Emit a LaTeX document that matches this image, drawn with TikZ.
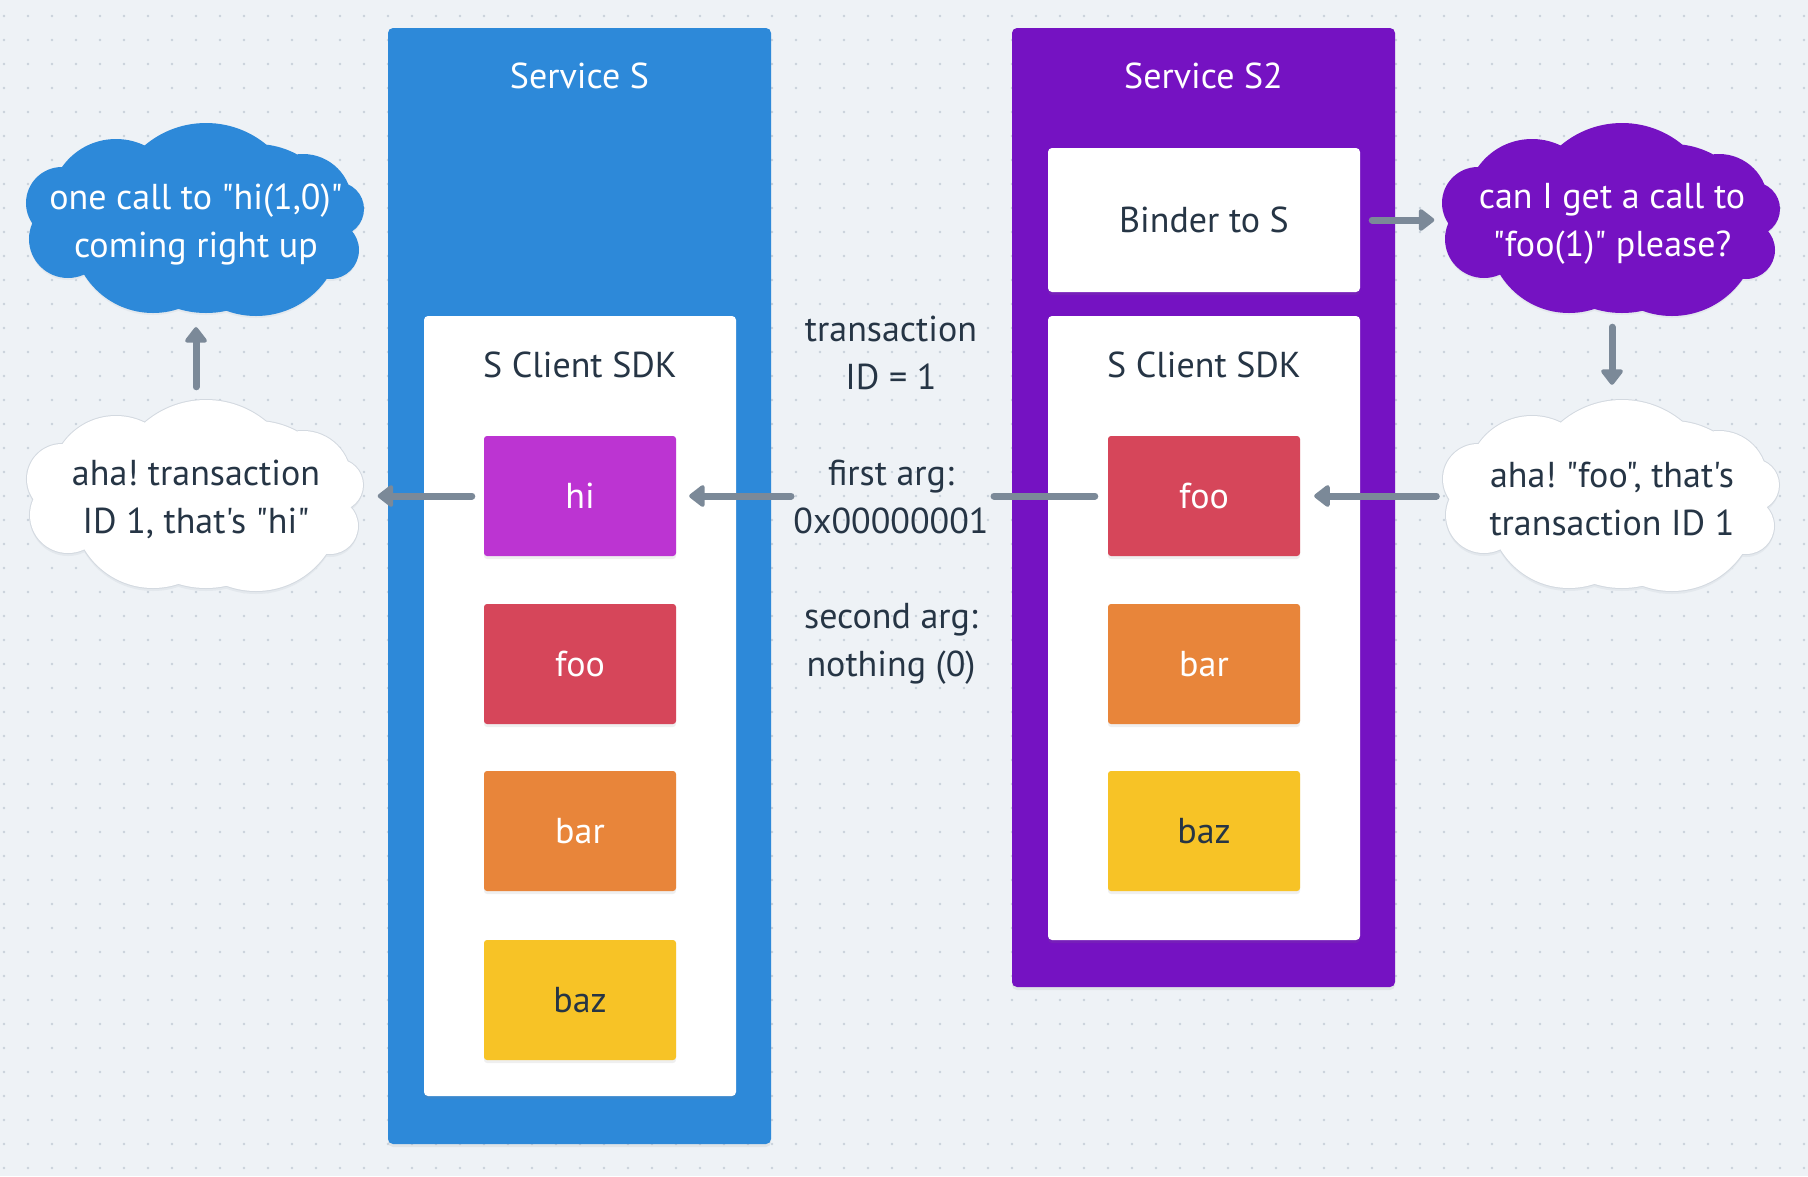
\documentclass[tikz,border=0pt]{standalone}
\usepackage{fontspec}
\setmainfont{PT Sans}[Ligatures=TeXOff]
\usetikzlibrary{arrows.meta,shadows}
\definecolor{bgc}{HTML}{EEF2F6}
\definecolor{dotc}{HTML}{C9D1DB}
\definecolor{blueS}{HTML}{2D89D9}
\definecolor{purpS}{HTML}{7512C2}
\definecolor{hic}{HTML}{BC34D2}
\definecolor{fooc}{HTML}{D6465A}
\definecolor{barc}{HTML}{E8853A}
\definecolor{bazc}{HTML}{F7C326}
\definecolor{ink}{HTML}{263545}
\definecolor{arrc}{HTML}{7B8998}
\definecolor{cloudline}{HTML}{D3D9E0}
\definecolor{cloudshade}{HTML}{E3E8ED}
\pgfdeclarelayer{bgl}
\pgfdeclarelayer{cloudl}
\pgfsetlayers{bgl,cloudl,main}
\tikzset{
  cloudp/.style={insert path={
    (10,-1) circle (94pt)
    (-80,-14) circle (65pt)
    (107,-16) circle (48pt)
    (141,-10) circle (26pt)
    (134,31) circle (28pt)
    (60,11) circle (85pt)
    (-43,13) circle (80pt)
    (-128,20) circle (38pt)
    (-134,-16) circle (35pt)
    (0,5) ellipse (135pt and 68pt)}}
}
\newcommand\cloudbody[3]{%
  \begin{scope}[shift={(#1)}]
    \fill[cloudshade,yshift=-3pt,cloudp];
    \path[fill=#2,draw=#3,line width=2pt,cloudp];
    \fill[#2,cloudp];
  \end{scope}}
\frenchspacing
\begin{document}
\begin{tikzpicture}[x=1pt,y=-1pt,
  font=\fontsize{36}{48}\selectfont\frenchspacing,
  shadowed/.style={drop shadow={shadow xshift=0pt,shadow yshift=-3pt,opacity=0.12}},
  svc/.style={rectangle,rounded corners=5pt,minimum width=383pt,inner sep=0pt,shadowed},
  panel/.style={rectangle,rounded corners=4pt,fill=white,minimum width=312pt,inner sep=0pt,shadowed},
  fn/.style={rectangle,rounded corners=3pt,minimum width=192pt,minimum height=120pt,inner sep=0pt,text=white,shadowed},
  ttl/.style={anchor=base,text=white,inner sep=0pt},
  lbl/.style={anchor=base,text=ink,inner sep=0pt},
  cloudnode/.style={rectangle,minimum width=335pt,minimum height=192pt,inner sep=0pt,align=center},
  ctext/.style={align=center,inner sep=0pt},
  arr/.style={draw=arrc,line width=7pt,line cap=round,-{Triangle[length=17pt,width=25pt,round]}},
  seg/.style={draw=arrc,line width=7pt,line cap=round}
]
\useasboundingbox (0,0) rectangle (1808,1176);
\begin{pgfonlayer}{bgl}
\fill[bgc] (0,0) rectangle (1808,1176);
\foreach \i in {0,...,75}{
  \foreach \j in {0,...,48}{
    \fill[dotc] (4+24*\i,16+24*\j) circle (1.3pt);
  }
}
\end{pgfonlayer}
% services
\node[svc,fill=blueS,minimum height=1116pt] (svcS) at (579.5,586) {};
\node[svc,fill=purpS,minimum height=959pt] (svcS2) at (1203.5,507.5) {};
\node[ttl] (svcSt) at (579.5,88) {Service S};
\node[ttl] (svcS2t) at (1203.5,88) {Service S2};
% panels
\node[panel,minimum height=780pt] (sdkL) at (580,706) {};
\node[lbl] (sdkLt) at (580,377) {S Client SDK};
\node[panel,minimum height=624pt] (sdkR) at (1204,628) {};
\node[lbl] (sdkRt) at (1204,377) {S Client SDK};
\node[panel,minimum height=144pt,text=ink] (binder) at (1204,220) {Binder to S};
% functions
\node[fn,fill=hic] (hi) at (580,496) {hi};
\node[fn,fill=fooc] (fooL) at (580,664) {foo};
\node[fn,fill=barc] (barL) at (580,831) {bar};
\node[fn,fill=bazc,text=ink] (bazL) at (580,1000) {baz};
\node[fn,fill=fooc] (fooR) at (1204,496) {foo};
\node[fn,fill=barc] (barR) at (1204,664) {bar};
\node[fn,fill=bazc,text=ink] (bazR) at (1204,831) {baz};
% clouds
\node[cloudnode] (cBlue) at (196,219) {};
\node[cloudnode] (cWL) at (196,495) {};
\node[cloudnode] (cPurp) at (1612,219) {};
\node[cloudnode] (cWR) at (1612,495) {};
\begin{pgfonlayer}{cloudl}
\cloudbody{cBlue.center}{blueS}{blueS}
\cloudbody{cWL.center}{white}{cloudline}
\cloudbody{cPurp.center}{purpS}{purpS}
\cloudbody{cWR.center}{white}{cloudline}
\end{pgfonlayer}
\node[ctext,text=white] (cBluet) at (196,224) {one call to "hi(1,0)"\\coming right up};
\node[ctext,text=ink] (cWLt) at (196,499) {aha! transaction\\ID 1, that's "hi"};
\node[ctext,text=white] (cPurpt) at (1612,224) {can I get a call to\\"foo(1)" please?};
\node[ctext,text=ink] (cWRt) at (1612,499) {aha! "foo", that's\\transaction ID 1};
% middle text
\node[ctext,text=ink] (tid) at (891,353) {transaction\\ID = 1};
\node[ctext,text=ink] (targ1) at (891,497) {first arg:\\0x00000001};
\node[ctext,text=ink] (targ2) at (891,644) {second arg:\\nothing (0)};
% connector break points
\coordinate (mR) at (994,496);
\coordinate (mL) at (791,496);
% connectors
\draw[arr,shorten <=12pt,shorten >=10pt] (binder.east) -- (cPurp.west |- binder.east);
\draw[arr,shorten <=12pt,shorten >=14pt] (cPurp.south) -- (cWR.north);
\draw[arr,shorten <=8pt,shorten >=14pt] (cWR.west |- fooR.east) -- (fooR.east);
\draw[seg,shorten <=13pt] (fooR.west) -- (mR);
\draw[arr,shorten >=13pt] (mL) -- (hi.east);
\draw[arr,shorten <=12pt,shorten >=14pt] (hi.west) -- (cWL.east |- hi.west);
\draw[arr,shorten <=12pt,shorten >=12pt] (cWL.north) -- (cBlue.south);
\end{tikzpicture}
\end{document}
